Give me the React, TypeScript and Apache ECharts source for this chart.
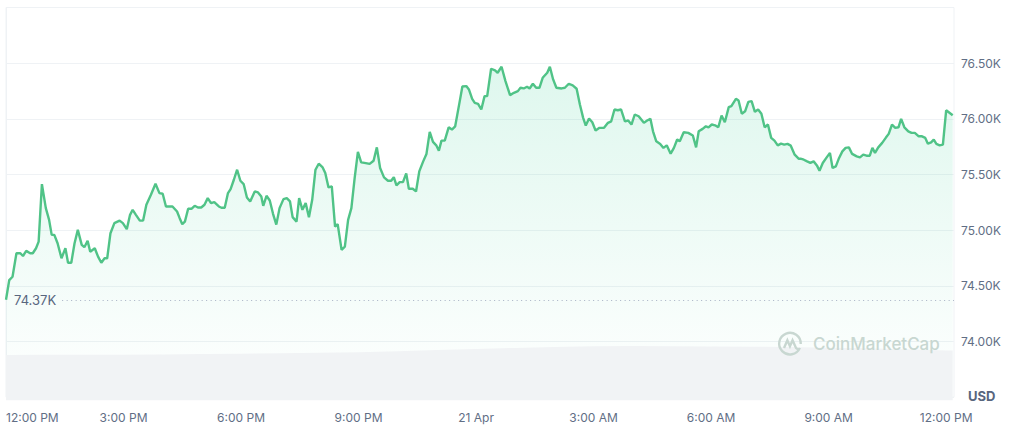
import React, { useEffect, useRef } from "react";
import * as echarts from "echarts";

// Minutes since 12:00 PM (20 Apr)
const minutes = [
  0, 5, 10, 16, 22, 26, 31, 37, 41, 46,
  50, 55, 61, 66, 70, 74, 79, 85, 91, 95,
  100, 105, 110, 116, 120, 125, 129, 136, 141, 146,
  151, 155, 160, 166, 174, 179, 185, 190, 194, 199,
  205, 210, 215, 222, 229, 235, 240, 245, 255, 262,
  266, 270, 274, 279, 284, 289, 294, 299, 304, 309,
  314, 319, 326, 330, 335, 340, 344, 349, 354, 359,
  364, 369, 374, 381, 386, 391, 394, 399, 404, 409,
  414, 419, 425, 430, 435, 439, 445, 449, 454, 459,
  464, 469, 474, 479, 485, 489, 494, 499, 504, 508,
  514, 519, 524, 529, 534, 539, 544, 549, 557, 563,
  568, 573, 579, 585, 590, 594, 598, 603, 608, 613,
  617, 623, 628, 633, 639, 644, 649, 654, 659, 663,
  667, 672, 678, 683, 688, 695, 699, 705, 709, 714,
  718, 723, 728, 733, 737, 743, 749, 753, 759, 765,
  772, 778, 784, 788, 793, 798, 802, 807, 812, 817,
  822, 829, 833, 838, 843, 851, 856, 862, 868, 874,
  879, 884, 888, 893, 898, 903, 909, 916, 922, 927,
  932, 937, 942, 948, 953, 958, 963, 969, 977, 982,
  987, 991, 996, 1002, 1007, 1012, 1018, 1023, 1028, 1032,
  1038, 1045, 1052, 1057, 1061, 1067, 1072, 1076, 1081, 1086,
  1091, 1096, 1101, 1107, 1111, 1118, 1122, 1127, 1132, 1137,
  1142, 1147, 1152, 1157, 1162, 1167, 1172, 1177, 1182, 1187,
  1192, 1197, 1202, 1208, 1214, 1217, 1222, 1227, 1232, 1237,
  1242, 1246, 1251, 1257, 1262, 1266, 1271, 1276, 1281, 1286,
  1291, 1296, 1303, 1308, 1313, 1318, 1323, 1327, 1331, 1336,
  1342, 1348, 1352, 1357, 1362, 1367, 1371, 1376, 1382, 1387,
  1392, 1398, 1403, 1408, 1412, 1417, 1421, 1425, 1430, 1435,
  1440, 1444, 1450,
];

// BTC price in USD
const prices = [
  74375, 74552, 74582, 74793, 74793, 74768, 74814, 74793, 74793, 74838,
  74897, 75414, 75198, 75093, 74958, 74958, 74883, 74748, 74838, 74708,
  74708, 74883, 75003, 74868, 74847, 74904, 74807, 74838, 74762, 74708,
  74748, 74748, 74973, 75063, 75086, 75063, 75009, 75138, 75183, 75138,
  75086, 75086, 75228, 75318, 75417, 75333, 75327, 75213, 75213, 75168,
  75108, 75054, 75077, 75192, 75192, 75219, 75204, 75204, 75228, 75288,
  75243, 75252, 75213, 75201, 75201, 75333, 75369, 75453, 75543, 75444,
  75414, 75294, 75258, 75348, 75339, 75303, 75219, 75309, 75267, 75147,
  75050, 75198, 75279, 75288, 75258, 75117, 75077, 75288, 75183, 75243,
  75117, 75273, 75543, 75597, 75564, 75514, 75384, 75393, 75032, 75054,
  74823, 74852, 75093, 75198, 75468, 75703, 75609, 75604, 75595, 75624,
  75744, 75559, 75474, 75444, 75444, 75477, 75402, 75432, 75432, 75510,
  75372, 75372, 75348, 75528, 75618, 75685, 75883, 75793, 75762, 75714,
  75804, 75804, 75924, 75904, 75933, 76159, 76291, 76294, 76264, 76180,
  76144, 76135, 76084, 76204, 76204, 76450, 76435, 76414, 76468, 76339,
  76213, 76234, 76249, 76279, 76273, 76288, 76273, 76315, 76279, 76279,
  76369, 76414, 76468, 76354, 76279, 76273, 76279, 76315, 76300, 76270,
  76129, 76009, 75940, 76003, 75969, 75895, 75919, 75919, 75964, 75978,
  76084, 76077, 76084, 75978, 75985, 75949, 76039, 76023, 75964, 75985,
  76000, 75888, 75798, 75775, 75739, 75762, 75687, 75739, 75814, 75798,
  75879, 75874, 75850, 75744, 75888, 75910, 75933, 75924, 75949, 75942,
  75924, 76030, 75969, 76105, 76114, 76180, 76165, 76045, 76068, 76153,
  76159, 76063, 76084, 76045, 75924, 75949, 75829, 75804, 75762, 75777,
  75768, 75775, 75759, 75678, 75642, 75642, 75633, 75618, 75604, 75618,
  75582, 75534, 75604, 75654, 75694, 75559, 75573, 75649, 75708, 75739,
  75744, 75685, 75663, 75654, 75678, 75669, 75669, 75739, 75694, 75744,
  75784, 75834, 75865, 75949, 75919, 75924, 76000, 75924, 75888, 75874,
  75874, 75843, 75843, 75829, 75777, 75789, 75814, 75775, 75762, 75768,
  76077, 76059, 76032,
];

// 24h volume (billion USD), hourly
const volumeMinutes = [
  0, 60, 120, 180, 240, 300, 360, 420, 480, 540, 600, 660, 720,
  780, 840, 900, 960, 1020, 1080, 1140, 1200, 1260, 1320, 1380, 1440, 1450,
];
const volumes = [
  32.3, 32.4, 32.5, 32.5, 32.6, 32.9, 33.2, 33.5, 33.8, 34.3, 35.0, 35.8, 36.6,
  37.3, 37.9, 38.4, 38.6, 38.5, 38.3, 38.2, 37.9, 37.5, 37.0, 36.4, 35.5, 35.4,
];

const xTickLabels = [
  "12:00 PM", "3:00 PM", "6:00 PM", "9:00 PM", "21 Apr",
  "3:00 AM", "6:00 AM", "9:00 AM", "12:00 PM",
];
const xTickStep = 180;
const xMax = 1452;
const yMin = 73500;
const yMax = 77000;
const yStep = 500;
const yLabelMin = 74000;
const yLabelMax = 76500;
const openPrice = 74370;
const openLabel = "74.37K";
const openLineStart = 86;

const logoPath =
  "M21.2 15.6 A10 10 0 1 1 22 12 M6.5 15.8 L9.6 8.6 L12 14.2 L14.4 8.6 L17.6 15.8 L20 17.5";
echarts.graphic.registerShape("cmcLogo", echarts.graphic.extendPath(logoPath, {}));

const labelColor = "#616e85";
const lineColor = "#50c387";
const gridColor = "#eff2f5";
const font = "Inter, 'Noto Sans', sans-serif";

export default function App() {
  const ref = useRef<HTMLDivElement>(null);

  useEffect(() => {
    if (!ref.current) return;
    const chart = echarts.init(ref.current, undefined, { renderer: "svg" });
    const priceData = minutes.map((m, i) => [m, prices[i]]);
    const volData = volumeMinutes.map((m, i) => [m, volumes[i]]);

    chart.setOption({
      animation: false,
      textStyle: { fontFamily: font },
      grid: [
        {
          left: 6, right: 70, top: 7.5, height: 389.7,
          show: true, borderColor: gridColor, borderWidth: 1,
        },
        { left: 6, right: 70, top: 330, bottom: 27.5 },
      ],
      xAxis: [
        { gridIndex: 0, type: "value", min: 0, max: xMax, interval: xTickStep, show: false },
        {
          gridIndex: 1, type: "value", min: 0, max: xMax, interval: xTickStep,
          axisLine: { show: false }, axisTick: { show: false }, splitLine: { show: false },
          axisLabel: {
            margin: 11,
            color: labelColor,
            fontSize: 12,
            fontFamily: font,
            alignMinLabel: "left",
            formatter: (v: number) => {
              const idx = v / xTickStep;
              return Number.isInteger(idx) && idx < xTickLabels.length ? xTickLabels[idx] : "";
            },
          },
        },
      ],
      yAxis: [
        {
          gridIndex: 0, type: "value", position: "right",
          min: yMin, max: yMax, interval: yStep,
          axisLine: { show: true, lineStyle: { color: gridColor } },
          axisTick: { show: false },
          splitLine: { show: true, lineStyle: { color: gridColor } },
          axisLabel: {
            margin: 7,
            color: labelColor,
            fontSize: 12,
            fontFamily: font,
            formatter: (v: number) =>
              v >= yLabelMin && v <= yLabelMax ? (v / 1000).toFixed(2) + "K" : "",
          },
        },
        { gridIndex: 1, type: "value", min: 0, max: 50, show: false },
      ],
      series: [
        {
          type: "line",
          xAxisIndex: 0,
          yAxisIndex: 0,
          data: priceData,
          showSymbol: false,
          lineStyle: { color: lineColor, width: 2.4 },
          areaStyle: {
            color: new echarts.graphic.LinearGradient(0, 0, 0, 1, [
              { offset: 0, color: "rgba(22,199,132,0.2)" },
              { offset: 1, color: "rgba(22,199,132,0)" },
            ]),
          },
          z: 3,
          markLine: {
            silent: true,
            symbol: ["none", "none"],
            lineStyle: { color: "#a6b0c3", width: 1, type: [1, 3.5] },
            label: {
              show: true,
              position: "start",
              distance: 6,
              formatter: openLabel,
              color: "#58667e",
              fontSize: 13,
              fontFamily: font,
            },
            data: [[{ coord: [openLineStart, openPrice] }, { coord: [xMax, openPrice] }]],
          },
        },
        {
          type: "line",
          xAxisIndex: 1,
          yAxisIndex: 1,
          data: volData,
          showSymbol: false,
          silent: true,
          lineStyle: { width: 0 },
          areaStyle: { color: "#f1f3f5", opacity: 1 },
          z: 4,
        },
      ],
      graphic: [
        {
          type: "text",
          left: 968,
          top: 389,
          style: { text: "USD", fill: "#58667e", font: `bold 13px ${font}` },
        },
        {
          type: "cmcLogo",
          x: 777,
          y: 331,
          scaleX: 1.08,
          scaleY: 1.08,
          style: { fill: "none", stroke: "#c8d7d1", lineWidth: 2.2 },
          z: 10,
        },
        {
          type: "text",
          left: 813,
          top: 335,
          style: { text: "CoinMarketCap", fill: "#c8d7d1", font: `500 17px ${font}` },
          z: 10,
        },
      ],
    });
    return () => chart.dispose();
  }, []);

  return (
    <div
      ref={ref}
      style={{ position: "absolute", left: 0, top: 0, width: 1024, height: 428 }}
    />
  );
}
